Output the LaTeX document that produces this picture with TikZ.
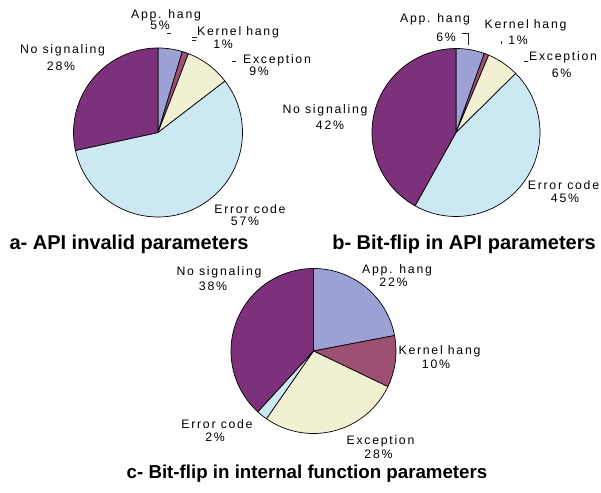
\documentclass[tikz,border=0pt]{standalone}
\usepackage{fontspec}
\setmainfont{Liberation Sans}
\newfontfamily\lblfont[LetterSpace=14]{Liberation Sans}
\definecolor{cApp}{RGB}{155,161,212}
\definecolor{cKer}{RGB}{158,80,115}
\definecolor{cExc}{RGB}{242,240,210}
\definecolor{cErr}{RGB}{204,233,243}
\definecolor{cNo}{RGB}{125,49,122}
\newcommand\myslice[5]{%
  \filldraw[slice, fill=#5] (#1) -- ++(#3:#2) arc[start angle=#3, end angle=#4, radius=#2] -- cycle;}
\begin{document}
\begin{tikzpicture}[x=1pt,y=1pt,
  lbl/.style={font=\lblfont\fontsize{12.3}{13}\selectfont, anchor=base, inner sep=0pt},
  ttl/.style={font=\fontsize{20}{22}\selectfont\bfseries, anchor=base, inner sep=0pt},
  slice/.style={draw=black, line width=0.7pt, line join=round},
  leader/.style={draw=black!85, line width=0.5pt}]
\useasboundingbox (0,0) rectangle (601,492);
\fill[white] (0,0) rectangle (601,492);
% centres
\coordinate (pa) at (158,359.5);
\coordinate (pb) at (456,359.5);
\coordinate (pc) at (313.5,141);
% pie a
\myslice{pa}{84.5}{90}{73.3}{cApp}
\myslice{pa}{84.5}{73.3}{68.9}{cKer}
\myslice{pa}{84.5}{68.9}{37.5}{cExc}
\myslice{pa}{84.5}{37.5}{-167.7}{cErr}
\myslice{pa}{84.5}{-167.7}{-270}{cNo}
% pie b
\myslice{pb}{84}{90}{70.3}{cApp}
\myslice{pb}{84}{70.3}{67.1}{cKer}
\myslice{pb}{84}{67.1}{44.7}{cExc}
\myslice{pb}{84}{44.7}{-119.2}{cErr}
\myslice{pb}{84}{-119.2}{-270}{cNo}
% pie c
\myslice{pc}{82.5}{90}{10.8}{cApp}
\myslice{pc}{82.5}{10.8}{-25.6}{cKer}
\myslice{pc}{82.5}{-25.6}{-124.8}{cExc}
\myslice{pc}{82.5}{-124.8}{-132.5}{cErr}
\myslice{pc}{82.5}{-132.5}{-270}{cNo}
% labels a
\node[lbl] (aApp) at (166,473) {App. hang};
\node[lbl] (aAppP) at (160,462) {5\%};
\node[lbl] (aKer) at (238,456) {Kernel hang};
\node[lbl] (aKerP) at (223,443.5) {1\%};
\node[lbl] (aExc) at (277,428) {Exception};
\node[lbl] (aExcP) at (259,416) {9\%};
\node[lbl] (aNo) at (62.5,438.3) {No signaling};
\node[lbl] (aNoP) at (61,421.7) {28\%};
\node[lbl] (aErr) at (250,278.7) {Error code};
\node[lbl] (aErrP) at (245,266) {57\%};
% labels b
\node[lbl] (bApp) at (435,469) {App. hang};
\node[lbl] (bAppP) at (446,450.3) {6\%};
\node[lbl] (bKer) at (525.5,463.7) {Kernel hang};
\node[lbl] (bKerP) at (518,447) {1\%};
\node[lbl] (bExc) at (563,431) {Exception};
\node[lbl] (bExcP) at (561.5,414.7) {6\%};
\node[lbl] (bNo) at (325,378.7) {No signaling};
\node[lbl] (bNoP) at (330,362) {42\%};
\node[lbl] (bErr) at (563.5,302.7) {Error code};
\node[lbl] (bErrP) at (565,289.3) {45\%};
% labels c
\node[lbl] (cNoL) at (219,216.3) {No signaling};
\node[lbl] (cNoP) at (213,201.3) {38\%};
\node[lbl] (cAppL) at (397,218) {App. hang};
\node[lbl] (cAppP) at (393.5,205.3) {22\%};
\node[lbl] (cKerL) at (439.5,137) {Kernel hang};
\node[lbl] (cKerP) at (436,123.7) {10\%};
\node[lbl] (cErrL) at (217,63.7) {Error code};
\node[lbl] (cErrP) at (215,50.3) {2\%};
\node[lbl] (cExcL) at (380.5,48) {Exception};
\node[lbl] (cExcP) at (378.5,33.7) {28\%};
% leader ticks
\coordinate (la1) at (167,458.7); \coordinate (la2) at (171,458.7);
\draw[leader] (la1) -- (la2);
\coordinate (lk1) at (192,455); \coordinate (lk2) at (197,455);
\draw[leader] (lk1) -- (lk2);
\coordinate (lk3) at (192,451.3); \coordinate (lk4) at (196,451.3);
\draw[leader] (lk3) -- (lk4);
\coordinate (le1) at (232,431); \coordinate (le2) at (236,431);
\draw[leader] (le1) -- (le2);
\coordinate (lb1) at (462,458.7); \coordinate (lb2) at (468.7,458.7); \coordinate (lb3) at (468.7,447);
\draw[leader] (lb1) -- (lb2) -- (lb3);
\coordinate (lb4) at (501.7,451.3); \coordinate (lb5) at (501.7,448);
\draw[leader] (lb4) -- (lb5);
\coordinate (lb6) at (524,431); \coordinate (lb7) at (528,431);
\draw[leader] (lb6) -- (lb7);
% titles
\node[ttl] (ta) at (129,242) {a- API invalid parameters};
\node[ttl] (tb) at (464,242) {b- Bit-flip in API parameters};
\node[ttl, font=\fontsize{18.7}{20}\selectfont\bfseries] (tc) at (307,14) {c- Bit-flip in internal function parameters};
\end{tikzpicture}
\end{document}
